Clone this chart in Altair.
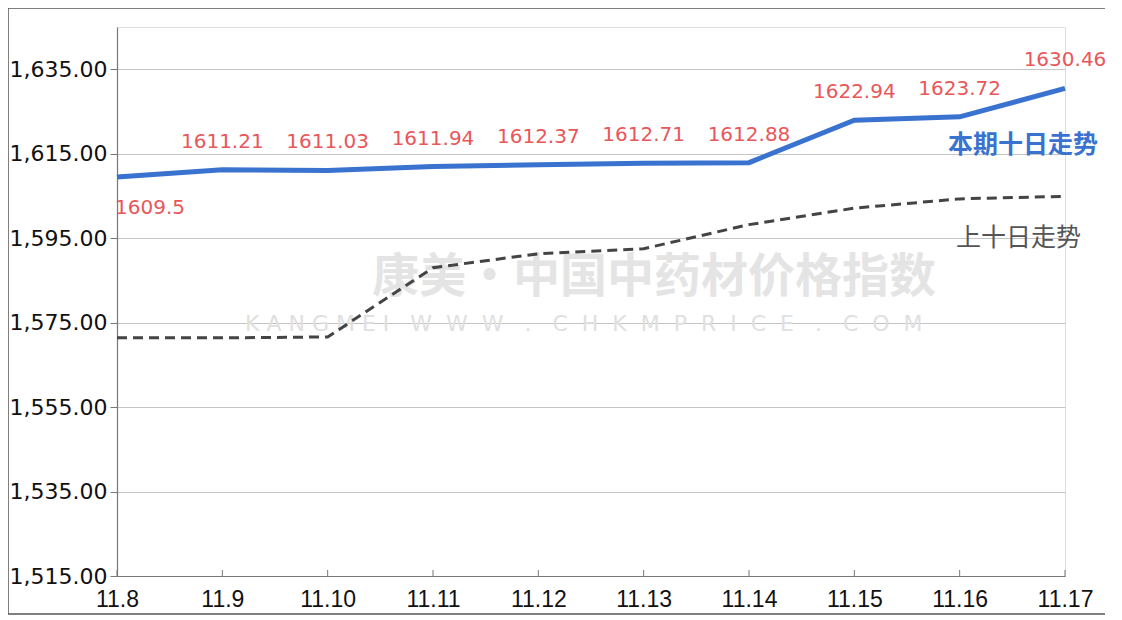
import altair as alt
import pandas as pd

dates = ["11.8", "11.9", "11.10", "11.11", "11.12", "11.13", "11.14", "11.15", "11.16", "11.17"]
current = [1609.5, 1611.21, 1611.03, 1611.94, 1612.37, 1612.71, 1612.88, 1622.94, 1623.72, 1630.46]
previous = [1571.4, 1571.4, 1571.6, 1588.0, 1591.3, 1592.5, 1598.2, 1602.1, 1604.3, 1604.9]
y_ticks = [1515, 1535, 1555, 1575, 1595, 1615, 1635]
label_text = ["1609.5", "1611.21", "1611.03", "1611.94", "1612.37", "1612.71", "1612.88", "1622.94", "1623.72", "1630.46"]

W, H = 948, 549

df = pd.DataFrame({"date": dates, "cur": current, "prev": previous, "lab": label_text})

xenc = alt.X("date:O", sort=dates, scale=alt.Scale(type="point", padding=0),
             axis=alt.Axis(title=None, labelAngle=0, labelFontSize=23, labelColor="#111",
                           labelFont="Liberation Sans", ticks=False, labelPadding=12,
                           domainColor="#777", domainWidth=1.2, grid=False))
yscale = alt.Scale(domain=[1515, 1645], nice=False, zero=False)

base = alt.Chart(df)

prev_line = base.mark_line(color="#444444", strokeWidth=3, strokeDash=[10, 6]).encode(
    x=xenc,
    y=alt.Y("prev:Q", scale=yscale,
            axis=alt.Axis(title=None, values=y_ticks, format=",.2f", labelFontSize=22,
                          labelColor="#111", labelFont="DejaVu Sans", tickSize=7,
                          tickColor="#777", labelPadding=3, domainColor="#777",
                          domainWidth=1.2, gridColor="#c4c4c4", gridWidth=1)),
)

cur_line = base.mark_line(color="#3a72cf", strokeWidth=5).encode(
    x=alt.X("date:O", sort=dates), y=alt.Y("cur:Q", scale=yscale))

xticks = base.mark_rule(color="#777", strokeWidth=1).encode(
    x=alt.X("date:O", sort=dates), y=alt.value(H), y2=alt.value(H - 6))

labels = alt.Chart(df.iloc[1:]).mark_text(
    color="#e8575a", fontSize=20, font="DejaVu Sans", dy=-28, align="center"
).encode(x=alt.X("date:O", sort=dates), y=alt.Y("cur:Q", scale=yscale), text="lab:N")

first_label = alt.Chart(df.iloc[:1]).mark_text(
    color="#e8575a", fontSize=20, font="DejaVu Sans", dy=31, dx=-2, align="left"
).encode(x=alt.X("date:O", sort=dates), y=alt.Y("cur:Q", scale=yscale), text="lab:N")

series_df = pd.DataFrame({"name": ["本期十日走势", "上十日走势"]})
cur_name = alt.Chart(series_df.iloc[:1]).mark_text(
    color="#3a72cf", fontSize=25, fontWeight="bold", font="Noto Sans CJK SC", align="right"
).encode(x=alt.value(981), y=alt.value(118), text="name:N")
prev_name = alt.Chart(series_df.iloc[1:]).mark_text(
    color="#555555", fontSize=25, font="Noto Sans CJK SC", align="right"
).encode(x=alt.value(964), y=alt.value(211), text="name:N")

NB = "\u00a0"
wm_line2 = (NB * 3).join([NB.join("KANGMEI"), (NB * 2).join("WWW"), ".",
                          (NB * 2).join("CHKMPRICE"), ".", (NB * 2).join("COM")])
wm_df = pd.DataFrame({"t": ["康美·中国中药材价格指数", wm_line2]})
wm1 = alt.Chart(wm_df.iloc[:1]).mark_text(
    color="#e4e4e4", fontSize=47, fontWeight="bold", font="Noto Sans CJK SC", align="left"
).encode(x=alt.value(255), y=alt.value(251), text="t:N")
wm2 = alt.Chart(wm_df.iloc[1:]).mark_text(
    color="#e0e0e0", fontSize=22, font="DejaVu Sans", align="left"
).encode(x=alt.value(128), y=alt.value(297), text="t:N")

frame = alt.Chart(series_df.iloc[:1]).mark_rect(
    fill=None, stroke="#555", strokeWidth=1.5, clip=False
).encode(x=alt.value(-109), x2=alt.value(990), y=alt.value(-19), y2=alt.value(587))

chart = alt.layer(frame, wm1, wm2, prev_line, cur_line, xticks, labels, first_label,
                  cur_name, prev_name).properties(
    width=W, height=H,
    autosize=alt.AutoSizeParams(type="none"),
    padding={"left": 109, "top": 19, "right": 40, "bottom": 40},
).configure_view(stroke=None).configure(background="white")

chart.save("out.html", embed_options={"renderer": "svg", "actions": False})
